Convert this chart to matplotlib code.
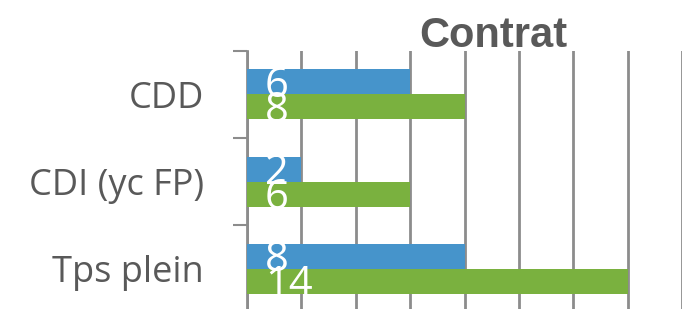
import matplotlib
matplotlib.use("Agg")
import matplotlib.pyplot as plt
import numpy as np

categories = ["CDD", "CDI (yc FP)", "Tps plein"]
blue_values = [6, 2, 8]
green_values = [8, 6, 14]
title = "Contrat"

W, H = 684, 309
fig = plt.figure(figsize=(W / 100, H / 100), dpi=100)
left, right, top, bottom = 247, 682, 50.7, 312.5
ax = fig.add_axes([left / W, (H - bottom) / H, (right - left) / W, (bottom - top) / H])

y = np.arange(len(categories))
bh = 0.286
blue = "#4694CB"
green = "#7AB13F"
ax.barh(y - bh / 2, blue_values, height=bh, color=blue, zorder=3)
ax.barh(y + bh / 2, green_values, height=bh, color=green, zorder=3)

fs_lab = 30
dy = -0.714 * fs_lab / 2
for yi, v in zip(y - bh / 2, blue_values):
    ax.annotate(str(v), xy=(0, yi), xytext=(13, dy), textcoords="offset points",
                ha="left", va="baseline", color="white", fontsize=fs_lab,
                family="Open Sans", zorder=4)
for yi, v in zip(y + bh / 2, green_values):
    ax.annotate(str(v), xy=(0, yi), xytext=(13, dy), textcoords="offset points",
                ha="left", va="baseline", color="white", fontsize=fs_lab,
                family="Open Sans", zorder=4)

ax.set_xlim(0, 16)
ax.set_ylim(len(categories) - 0.5, -0.5)
ax.set_xticks(np.arange(0, 17, 2))
ax.xaxis.grid(True, color="#8C8C8C", linewidth=2, zorder=0)
ax.tick_params(axis="x", length=0, labelbottom=False)

ax.set_yticks(y)
ax.set_yticklabels(categories, fontsize=26, family="Open Sans", color="#595959")
ax.set_yticks(np.arange(-0.5, len(categories) + 0.5, 1), minor=True)
ax.tick_params(axis="y", which="major", length=0, pad=31)
ax.tick_params(axis="y", which="minor", length=10, width=1.5, color="#8C8C8C")

for s in ["top", "right", "bottom"]:
    ax.spines[s].set_visible(False)
ax.spines["left"].set_color("#8C8C8C")
ax.spines["left"].set_linewidth(2)

fig.text(493 / W, 1 - 47 / H, title, ha="center", va="baseline",
         fontsize=30, fontweight="bold", family="Liberation Sans", color="#595959")

fig.savefig("out.png", dpi=100)
